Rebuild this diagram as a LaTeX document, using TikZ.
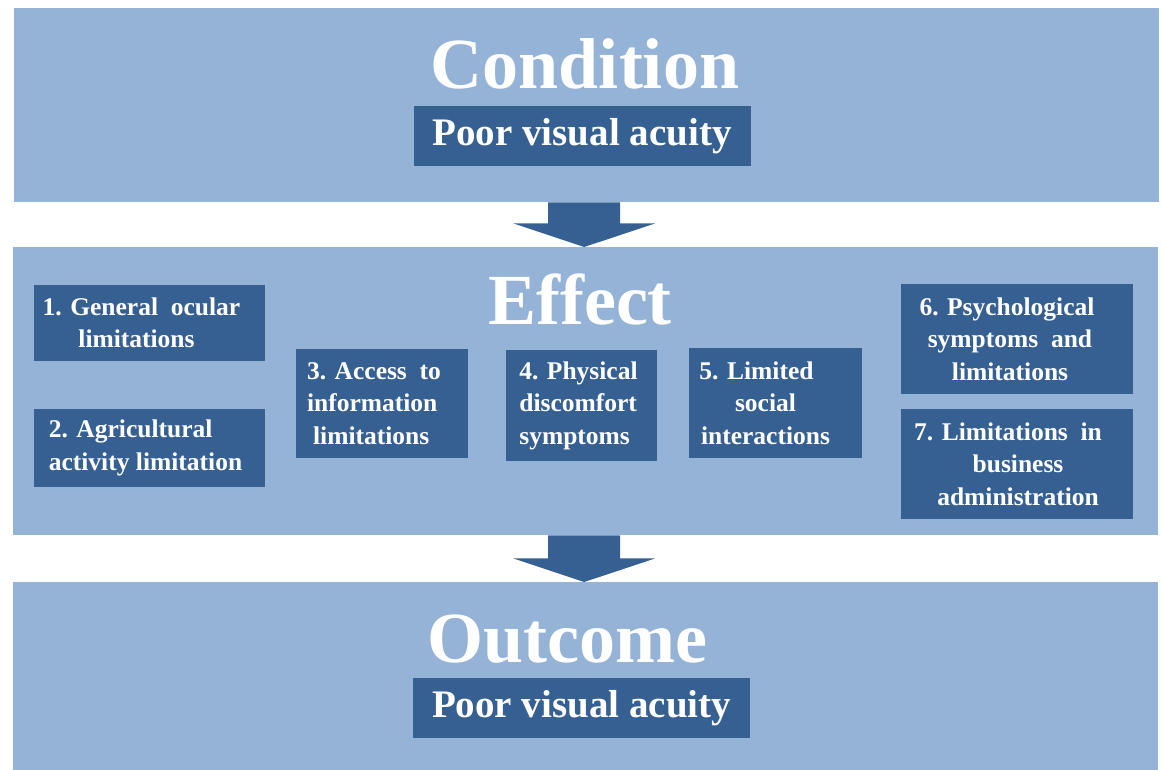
\documentclass[tikz,border=0pt]{standalone}
\usepackage{fontspec}
\setmainfont{Liberation Serif}
\usetikzlibrary{calc}
\definecolor{bandc}{HTML}{95B3D7}
\definecolor{darkc}{HTML}{376092}
\tikzset{
  band/.style={fill=bandc, draw=none, inner sep=0pt, anchor=north west},
  head/.style={text=white, font=\fontsize{72}{72}\selectfont\bfseries, anchor=base, inner sep=0pt},
  sub/.style={fill=darkc, text=white, font=\fontsize{39}{39}\selectfont\bfseries, inner sep=0pt},
  itembox/.style={fill=darkc, draw=none, inner sep=0pt},
  itemtext/.style={text=white, font=\fontsize{25.5}{32.5}\selectfont\bfseries, inner sep=0pt, align=center},
  bigarrow/.style={fill=darkc, draw=none}
}
\begin{document}
\begin{tikzpicture}[x=1pt,y=-1pt]
\useasboundingbox (0,0) rectangle (1162,770);
\fill[white] (0,0) rectangle (1162,770);
% bands
\node[band, minimum width=1145pt, minimum height=194pt] (cond) at (14,8) {};
\node[band, minimum width=1145pt, minimum height=288pt] (eff) at (13,247) {};
\node[band, minimum width=1145pt, minimum height=188pt] (out) at (13,582) {};
% headings
\node[head] (tcond) at (585,89) {Condition};
\node[head] (teff) at (580,324) {Effect};
\node[head] (tout) at (567,662) {Outcome};
% sub boxes
\node[sub, minimum width=337pt, minimum height=60pt] (pcond) at (582,136) {Poor visual acuity};
\node[sub, minimum width=337pt, minimum height=60pt] (pout) at (581.5,708) {Poor visual acuity};
% effect item boxes
\node[itembox, minimum width=231pt, minimum height=76pt] (e1) at (149.5,323) {};
\node[itembox, minimum width=231pt, minimum height=78pt] (e2) at (149.5,448) {};
\node[itembox, minimum width=172pt, minimum height=109pt] (e3) at (382,403.5) {};
\node[itembox, minimum width=151pt, minimum height=111pt] (e4) at (581.5,405.5) {};
\node[itembox, minimum width=173pt, minimum height=110pt] (e5) at (775.5,403) {};
\node[itembox, minimum width=232pt, minimum height=110pt] (e6) at (1017,339) {};
\node[itembox, minimum width=232pt, minimum height=110pt] (e7) at (1017,464) {};
% effect item texts
\node[itemtext] (t1) at ($(e1)+(-8,0)$) {1. General\ \ ocular\\\hspace*{-10pt}limitations};
\node[itemtext, align=left] (t2) at ($(e2)+(-4,0)$) {2. Agricultural\\activity limitation};
\node[itemtext, align=left] (t3) at ($(e3)+(-8,0)$) {3. Access\ \ to\\information\\\hspace*{6pt}limitations};
\node[itemtext, align=left] (t4) at ($(e4)+(-3,0)$) {4. Physical\\discomfort\\symptoms};
\node[itemtext] (t5) at ($(e5)+(-10,0)$) {5. Limited\hspace*{18pt}\\social\\interactions};
\node[itemtext] (t6) at ($(e6)+(-7,0)$) {6. Psychological\hspace*{6pt}\\symptoms\ \ and\\limitations};
\node[itemtext] (t7) at ($(e7)+(1,0)$) {7. Limitations\ \ in\hspace*{20pt}\\business\\administration};
% arrows
\path (cond.south) ++(-2.5,0) coordinate (a1s);
\coordinate (a1e) at (a1s |- eff.north);
\fill[bigarrow] ($(a1s)+(-36,0)$) -- ($(a1s)+(36,0)$) -- ($(a1s)+(36,21)$) -- ($(a1s)+(71,21)$) -- (a1e) -- ($(a1s)+(-71,21)$) -- ($(a1s)+(-36,21)$) -- cycle;
\path (eff.south) ++(-1.5,0) coordinate (a2s);
\coordinate (a2e) at (a2s |- out.north);
\fill[bigarrow] ($(a2s)+(-36,0)$) -- ($(a2s)+(36,0)$) -- ($(a2s)+(36,23)$) -- ($(a2s)+(71,23)$) -- (a2e) -- ($(a2s)+(-71,23)$) -- ($(a2s)+(-36,23)$) -- cycle;
\end{tikzpicture}
\end{document}
